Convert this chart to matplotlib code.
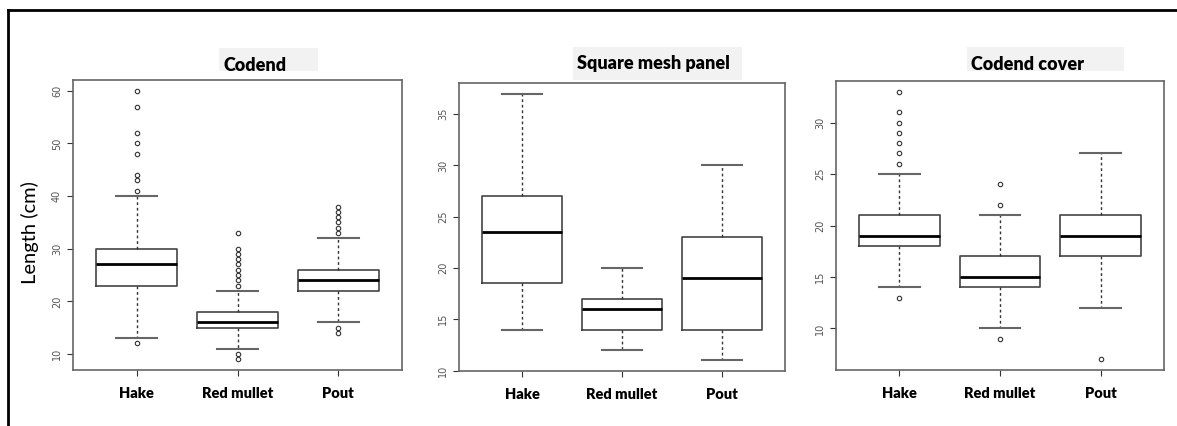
import matplotlib.pyplot as plt
from matplotlib.lines import Line2D
from matplotlib.patches import Rectangle
from matplotlib.transforms import ScaledTranslation

species = ["Hake", "Red mullet", "Pout"]
panel_titles = ["Codend", "Square mesh panel", "Codend cover"]

# per panel, per species: (lower whisker, q1, median, q3, upper whisker)
codend_stats = [(13, 23, 27, 30, 40), (11, 15, 16, 18, 22), (16, 22, 24, 26, 32)]
codend_fliers = [
    [12, 41, 43, 44, 48, 50, 52, 57, 60],
    [9, 10, 23, 24, 25, 26, 27, 28, 29, 30, 33],
    [14, 15, 33, 34, 35, 36, 37, 38],
]
square_stats = [(14, 18.5, 23.5, 27, 37), (12, 14, 16, 17, 20), (11, 14, 19, 23, 30)]
square_fliers = [[], [], []]
cover_stats = [(14, 18, 19, 21, 25), (10, 14, 15, 17, 21), (12, 17, 19, 21, 27)]
cover_fliers = [[13, 26, 27, 28, 29, 30, 31, 33], [9, 22, 24], [7]]

y_ticks = [[10, 20, 30, 40, 50, 60], [10, 15, 20, 25, 30, 35], [10, 15, 20, 25, 30]]
y_limits = [(6.96, 62.04), (9.96, 38.04), (5.96, 34.04)]

W, H = 1177, 426
fig = plt.figure(figsize=(W / 100, H / 100), dpi=100)
plt.rcParams["font.family"] = ["Lato", "DejaVu Sans"]

# panel frames in pixels: left, top, right, bottom
frames = [(73, 80, 402, 370), (459, 83, 785, 371), (836, 81, 1164, 370)]
title_boxes = [(219, 48, 318, 71), (573, 47, 742, 80), (967, 47, 1124, 71)]
title_base = [71, 69, 70]
# the category labels sit a little off their ticks in the original
label_shift = [(-5, 7, -1), (-9, 4, -4), (-11, 2, -6)]

all_stats = [codend_stats, square_stats, cover_stats]
all_fliers = [codend_fliers, square_fliers, cover_fliers]

for k in range(3):
    l, t, r, b = frames[k]
    ax = fig.add_axes([l / W, 1 - b / H, (r - l) / W, (b - t) / H])
    stats = []
    for (lo, q1, med, q3, hi), fl in zip(all_stats[k], all_fliers[k]):
        stats.append(dict(whislo=lo, q1=q1, med=med, q3=q3, whishi=hi, fliers=fl))
    ax.bxp(
        stats,
        positions=[1, 2, 3],
        widths=0.8,
        showfliers=True,
        boxprops=dict(color="#444444", linewidth=1.2),
        medianprops=dict(color="black", linewidth=2),
        whiskerprops=dict(color="#333333", linewidth=1, linestyle=(0, (2, 2))),
        capprops=dict(color="#666666", linewidth=1.5),
        capwidths=0.4,
        flierprops=dict(marker="o", markersize=3.2, markerfacecolor="none",
                        markeredgecolor="#333333", markeredgewidth=0.8),
    )
    ax.set_xlim(0.37, 3.63)
    ax.set_ylim(*y_limits[k])
    ax.set_yticks(y_ticks[k])
    ax.set_yticklabels([str(v) for v in y_ticks[k]], rotation=90, va="center",
                       fontsize=7, color="#555555", family="DejaVu Sans")
    ax.set_xticks([1, 2, 3])
    ax.set_xticklabels(species, fontsize=10.5, fontweight="heavy")
    for lab, dx in zip(ax.get_xticklabels(), label_shift[k]):
        lab.set_transform(lab.get_transform() + ScaledTranslation(dx / 100, 0, fig.dpi_scale_trans))
    ax.tick_params(axis="y", length=4, width=0.8, color="#333333", pad=4)
    ax.tick_params(axis="x", length=4, width=0.8, color="#333333", pad=8)
    for sp in ax.spines.values():
        sp.set_color("#666666")
        sp.set_linewidth(1.2)

    bl, bt, br, bb = title_boxes[k]
    fig.patches.append(Rectangle((bl / W, 1 - bb / H), (br - bl) / W, (bb - bt) / H,
                                 transform=fig.transFigure, facecolor="#f2f2f2",
                                 edgecolor="none", zorder=0))
    fig.text((bl + 4) / W, 1 - title_base[k] / H, panel_titles[k], fontsize=13,
             fontweight="heavy", ha="left", va="baseline")

fig.text(30 / W, 1 - 233 / H, "Length (cm)", rotation=90, fontsize=14.5,
         ha="center", va="center")

# outer border (top and left)
fig.add_artist(Line2D([8 / W, 1.0], [1 - 10 / H, 1 - 10 / H], color="black",
                      linewidth=2, transform=fig.transFigure))
fig.add_artist(Line2D([8 / W, 8 / W], [0, 1 - 10 / H], color="black",
                      linewidth=2, transform=fig.transFigure))

fig.savefig("out.png", dpi=100)
